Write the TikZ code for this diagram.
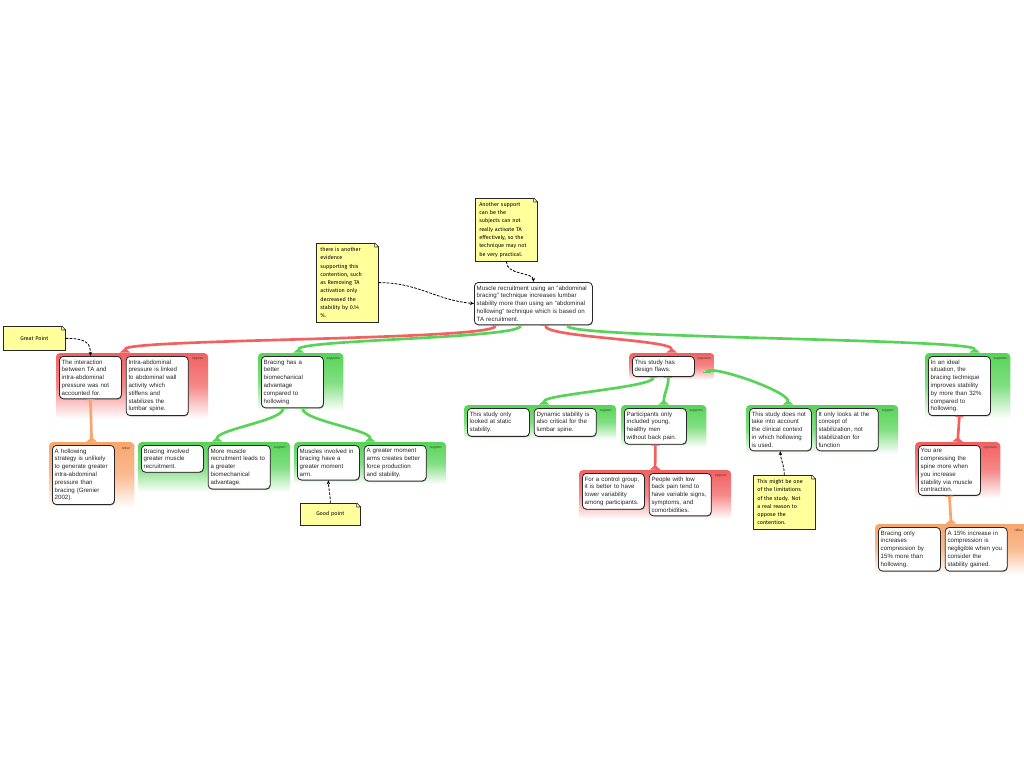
\documentclass[tikz,border=0pt]{standalone}
\usepackage{fontspec}
\setmainfont{Liberation Sans}
\newfontfamily\notefont{Fira Sans}
\usepackage{tikz}
\usetikzlibrary{positioning, arrows.meta, calc, fit, backgrounds, shadows}

\definecolor{opposered}{HTML}{F26161}
\definecolor{supportgreen}{HTML}{57D457}
\definecolor{rebutorange}{HTML}{F8A56C}
\definecolor{noteyellow}{HTML}{FFFF9C}

% folded corner of a sticky note
\newcommand{\foldcorner}[1]{%
  \fill[white] ([xshift=-3.2pt,yshift=0.7pt]#1.north east) -- ([xshift=0.7pt,yshift=0.7pt]#1.north east) -- ([xshift=0.7pt,yshift=-3.2pt]#1.north east) -- cycle;
  \filldraw[fill=noteyellow!45!white, draw=black!85, line width=0.4pt, line join=round] ([xshift=-3pt]#1.north east) -- ([xshift=-3pt,yshift=-3pt]#1.north east) -- ([yshift=-3pt]#1.north east) -- cycle;
}

\begin{document}
\begin{tikzpicture}[
    x=0.75pt, y=-0.75pt, % one unit is one pixel of the layout, y runs down
    node distance=3pt and 3pt,
    box/.style={draw=black!85, fill=white, rounded corners=3pt, line width=0.6pt,
        align=left, text width=43pt, inner xsep=1.75pt, inner ysep=2.5pt,
        font=\fontsize{4.6}{5.85}\selectfont, text=black!85,
        drop shadow={shadow xshift=0.4pt, shadow yshift=-0.6pt, fill=black!55, opacity=0.7}},
    tag/.style={font=\fontsize{2.6}{3}\selectfont, text=black!75, inner sep=1pt,
        text width=9pt, align=right},
    note/.style={draw=black!85, fill=noteyellow, line width=0.5pt, align=left,
        text width=40.5pt, inner xsep=3pt, inner ysep=3pt, anchor=north west,
        font=\notefont\fontsize{4.1}{6.2}\selectfont,
        drop shadow={shadow xshift=0.5pt, shadow yshift=-0.5pt, fill=black!60, opacity=0.7}},
    group/.style={rounded corners=3pt, inner sep=2.25pt},
    opposegrp/.style={group, top color=opposered, bottom color=white, middle color=opposered!75},
    supportgrp/.style={group, top color=supportgreen, bottom color=white, middle color=supportgreen!75},
    rebutgrp/.style={group, top color=rebutorange, bottom color=white, middle color=rebutorange!75},
    link/.style={line width=2pt, {Bar[width=6pt, line width=0.8pt]}-{Triangle[reversed, length=3.5pt, width=8pt]}},
    opposelink/.style={link, draw=opposered},
    supportlink/.style={link, draw=supportgreen},
    rebutlink/.style={link, draw=rebutorange},
    memo/.style={dash pattern=on 2pt off 1pt, line width=0.6pt, -{Stealth[length=3pt, width=2.6pt]}}
]
    \useasboundingbox (0,0) rectangle (1024,768);

    % 1. The contention
    \node[box, text width=85pt, anchor=north west] (root) at (474,282)
        {Muscle recruitment using an "abdominal\\ bracing" technique increases lumbar\\ stability more than using an "abdominal\\ hollowing" technique which is based on\\ TA recruitment.};

    % 2. First level: oppose / supports / opposes / supports
    \node[box, anchor=north west] (tainter) at (59,356)
        {The interaction\\ between TA and\\ intra-abdominal\\ pressure was not\\ accounted for.};
    \node[box, right=of tainter.north east, anchor=north west] (iap)
        {Intra-abdominal\\ pressure is linked\\ to abdominal wall\\ activity which\\ stiffens and\\ stabilizes the\\ lumbar spine.};
    \node[tag, right=1pt of iap.north east, anchor=north west] (tagoppA) {oppose};

    \node[box, anchor=north west] (biomech) at (261,356)
        {Bracing has a\\ better\\ biomechanical\\ advantage\\ compared to\\ hollowing};
    \node[tag, right=1pt of biomech.north east, anchor=north west] (tagsupA) {supports};

    \node[box, anchor=north west] (flaws) at (632,356)
        {This study has\\ design flaws.};
    \node[tag, right=1pt of flaws.north east, anchor=north west] (tagoppB) {opposes};

    \node[box, anchor=north west] (ideal) at (928,356)
        {In an ideal\\ situation, the\\ bracing technique\\ improves stability\\ by more than 32\%\\ compared to\\ hollowing.};
    \node[tag, right=1pt of ideal.north east, anchor=north west] (tagsupD) {supports};

    % 3. Second level
    \node[box, anchor=north west] (grenier) at (52,445)
        {A hollowing\\ strategy is unlikely\\ to generate greater\\ intra-abdominal\\ pressure than\\ bracing (Grenier\\ 2002).};
    \node[tag, right=1pt of grenier.north east, anchor=north west] (tagrebA) {rebut};

    \node[box, anchor=north west] (recruit) at (141,445)
        {Bracing involved\\ greater muscle\\ recruitment.};
    \node[box, right=of recruit.north east, anchor=north west] (moreadv)
        {More muscle\\ recruitment leads to\\ a greater\\ biomechanical\\ advantage.};
    \node[tag, right=1pt of moreadv.north east, anchor=north west] (tagsupA1) {support};

    \node[box, anchor=north west] (momentarm) at (297,445)
        {Muscles involved in\\ bracing have a\\ greater moment\\ arm.};
    \node[box, right=of momentarm.north east, anchor=north west] (forceprod)
        {A greater moment\\ arms creates better\\ force production\\ and stability.};
    \node[tag, right=1pt of forceprod.north east, anchor=north west] (tagsupA2) {support};

    \node[box, anchor=north west] (staticonly) at (467,408)
        {This study only\\ looked at static\\ stability.};
    \node[box, right=of staticonly.north east, anchor=north west] (dynamic)
        {Dynamic stability is\\ also critical for the\\ lumbar spine.};
    \node[tag, right=1pt of dynamic.north east, anchor=north west] (tagsupB1) {support};

    \node[box, anchor=north west] (youngmen) at (624,408)
        {Participants only\\ included young,\\ healthy men\\ without back pain.};
    \node[tag, right=1pt of youngmen.north east, anchor=north west] (tagsupB2) {supports};

    \node[box, anchor=north west] (clinical) at (749,408)
        {This study does not\\ take into account\\ the clinical context\\ in which hollowing\\ is used.};
    \node[box, right=of clinical.north east, anchor=north west] (concept)
        {It only looks at the\\ concept of\\ stabilization, not\\ stabilization for\\ function};
    \node[tag, right=1pt of concept.north east, anchor=north west] (tagsupC) {support};

    \node[box, anchor=north west] (compress) at (918,445)
        {You are\\ compressing the\\ spine more when\\ you increase\\ stability via muscle\\ contraction.};
    \node[tag, right=1pt of compress.north east, anchor=north west] (tagoppD) {opposes};

    % 4. Third level
    \node[box, anchor=north west] (control) at (582,473)
        {For a control group,\\ it is better to have\\ lower variability\\ among participants.};
    \node[box, right=of control.north east, anchor=north west] (lbpvar)
        {People with low\\ back pain tend to\\ have variable signs,\\ symptoms, and\\ comorbidities.};
    \node[tag, right=1pt of lbpvar.north east, anchor=north west] (tagoppC) {oppose};

    \node[box, anchor=north west] (fifteen) at (878,527)
        {Bracing only\\ increases\\ compression by\\ 15\% more than\\ hollowing.};
    \node[box, right=of fifteen.north east, anchor=north west] (negligible)
        {A 15\% increase in\\ compression is\\ negligible when you\\ consider the\\ stability gained.};
    \node[tag, right=1pt of negligible.north east, anchor=north west] (tagrebB) {rebut};

    % 5. Sticky notes
    \node[note] (practical) at (475,198)
        {Another support\\ can be the\\ subjects can not\\ really activate TA\\ effectively, so the\\ technique may not\\ be very practical.};
    \node[note] (evidence) at (316,243)
        {there is another\\ evidence\\ supporting this\\ contention, such\\ as Removing TA\\ activation only\\ decreased the\\ stability by 0.14\\ \%.};
    \node[note, align=center, minimum height=18pt] (great) at (3,326) {Great Point};
    \node[note, align=center, text width=39pt, minimum height=16.5pt] (good) at (300,503) {Good point};
    \node[note] (limits) at (753,475)
        {This might be one\\ of the limitations\\ of the study. Not\\ a real reason to\\ oppose the\\ contention.};
    \foldcorner{practical}
    \foldcorner{evidence}
    \foldcorner{great}
    \foldcorner{good}
    \foldcorner{limits}

    % 6. Coloured group panels behind the boxes
    \begin{scope}[on background layer]
        \fill[white] (0,0) rectangle (1024,768);
        \node[opposegrp, fit=(tainter)(iap)(tagoppA)] (oppA) {};
        \node[supportgrp, fit=(biomech)(tagsupA)] (supA) {};
        \node[opposegrp, fit=(flaws)(tagoppB)] (oppB) {};
        \node[supportgrp, fit=(ideal)(tagsupD)] (supD) {};
        \node[rebutgrp, fit=(grenier)(tagrebA)] (rebA) {};
        \node[supportgrp, fit=(recruit)(moreadv)(tagsupA1)] (supA1) {};
        \node[supportgrp, fit=(momentarm)(forceprod)(tagsupA2)] (supA2) {};
        \node[supportgrp, fit=(staticonly)(dynamic)(tagsupB1)] (supB1) {};
        \node[supportgrp, fit=(youngmen)(tagsupB2)] (supB2) {};
        \node[supportgrp, fit=(clinical)(concept)(tagsupC)] (supC) {};
        \node[opposegrp, fit=(compress)(tagoppD)] (oppD) {};
        \node[opposegrp, fit=(control)(lbpvar)(tagoppC)] (oppC) {};
        \node[rebutgrp, fit=(fifteen)(negligible)(tagrebB)] (rebB) {};
    \end{scope}

    % 7. Argument links
    \draw[opposelink] ($(root.south)+(-38,0)$) .. controls +(0,15) and +(0,-14) .. ($(oppA.north)+(-7,0)$);
    \draw[supportlink] ($(root.south)+(-13,0)$) .. controls +(0,13) and +(0,-13) .. ($(supA.north)+(-2,0)$);
    \draw[opposelink] ($(root.south)+(12,0)$) .. controls +(0,12) and +(0,-13) .. (oppB.north);
    \draw[supportlink] ($(root.south)+(34,0)$) .. controls +(0,13) and +(0,-14) .. ($(supD.north)+(7,0)$);

    \draw[rebutlink] (tainter.south) -- (rebA.north);
    \draw[supportlink] ($(biomech.south)+(-9.5,0)$) .. controls +(0,12) and +(0,-12) .. ($(supA1.north)+(3,0)$);
    \draw[supportlink] ($(biomech.south)+(10.5,0)$) .. controls +(0,12) and +(0,-12) .. (supA2.north);

    \draw[supportlink] ($(flaws.south)+(-10,0)$) .. controls +(0,10) and +(0,-10) .. ($(supB1.north)+(4,0)$);
    \draw[supportlink] ($(flaws.south)+(5,0)$) .. controls +(0,10) and +(0,-10) .. (supB2.north);
    \draw[supportlink] ($(flaws.south east)+(12,-4)$) .. controls +(0,-10) and +(0,-14) .. ($(supC.north)+(-34,0)$);
    \draw[opposelink] (youngmen.south) -- (oppC.north);

    \draw[opposelink] (ideal.south) -- (oppD.north);
    \draw[rebutlink] (compress.south) -- (rebB.north);

    % 8. Note pointers
    \draw[memo] (practical.south) .. controls +(0,14) and +(0,-10) .. (root.north);
    \draw[memo] (evidence.east) .. controls +(40,0) and +(-40,-4) .. (root.west);
    \draw[memo] (great.east) .. controls +(22,0) and +(0,-12) .. (tainter.north);
    \draw[memo] (good.north) .. controls +(0,-10) and +(0,8) .. (momentarm.south);
    \draw[memo] (limits.north) .. controls +(0,-10) and +(0,8) .. (clinical.south);
\end{tikzpicture}
\end{document}
